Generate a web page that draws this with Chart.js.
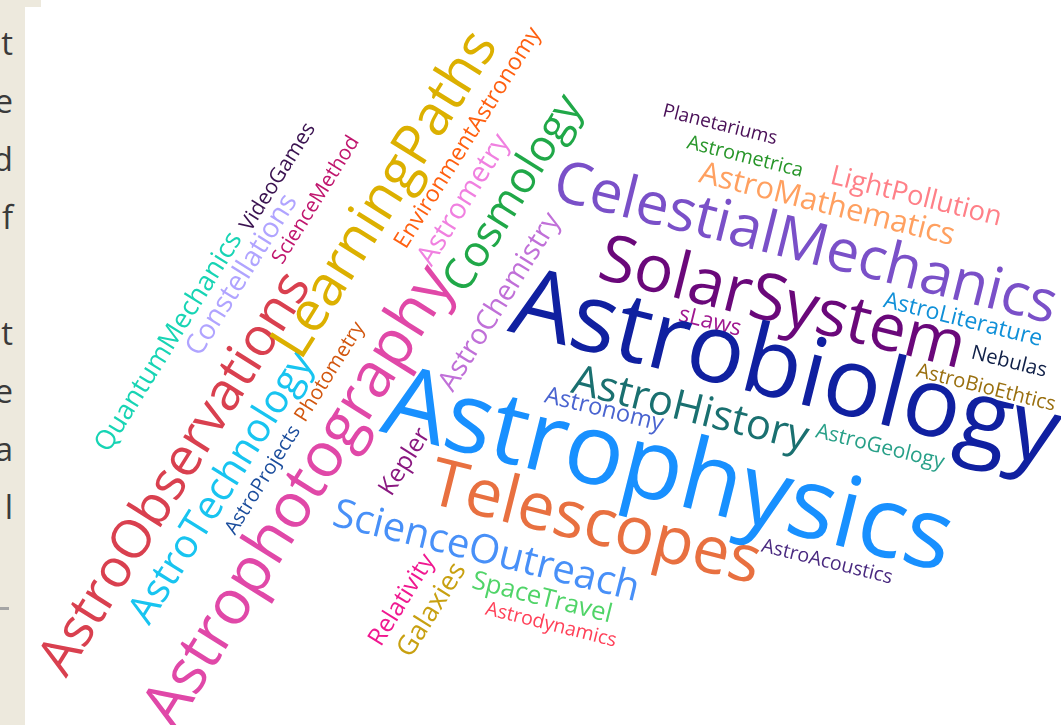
<!DOCTYPE html>
<html>
<head>
<meta charset="utf-8">
<script src="https://cdn.jsdelivr.net/npm/chart.js@4.4.1/dist/chart.umd.min.js"></script>
<style>
  html, body { margin:0; padding:0; width:1061px; height:725px; overflow:hidden; background:#ede9dd; }
  .card1 { position:absolute; left:25px; top:7px; width:1036px; height:718px; background:#fff; }
  .card2 { position:absolute; left:41px; top:0; width:1020px; height:7px; background:#fff; }
  .side { position:absolute; left:0; top:0; width:25px; height:725px; overflow:hidden; }
  .side span { position:absolute; right:12px; font:33px "Open Sans", sans-serif; color:#3a3a3a; line-height:1; }
  .dash { position:absolute; left:0; top:607px; width:9px; height:3px; background:#a5a5a5; }
  #wrap { position:absolute; left:0; top:0; width:1061px; height:725px; }
</style>
</head>
<body>
<div class="card2"></div>
<div class="card1"></div>
<div class="side" id="side"></div>
<div class="dash"></div>
<div id="wrap"><canvas id="c"></canvas></div>
<script>
// ---- data ----
const words = ["QuantumMechanics","Constellations","VideoGames","ScienceMethod","AstroObservations",
  "AstroTechnology","AstroProjects","Photometry","LearningPaths","Astrophotography",
  "EnvironmentAstronomy","Astrometry","Cosmology","AstroChemistry","Kepler","Relativity","Galaxies",
  "Planetariums","Astrometrica","AstroMathematics","LightPollution","CelestialMechanics","SolarSystem",
  "AstroLiterature","sLaws","Astrobiology","Nebulas","AstroBioEthtics","AstroHistory","Astronomy",
  "AstroGeology","Astrophysics","Telescopes","ScienceOutreach","SpaceTravel","Astrodynamics","AstroAcoustics"];
const values = [27,28,21,20.5,53.5,40,20,20.5,56,62.4,23,28.5,43.5,28.4,24.7,24.5,27,
  19,19.8,30.8,27.3,58.5,65.4,23,22.7,96,20.2,20.2,41.7,23.7,21,99,66,40,25.7,19.5,19.6];

// ---- layout (word cloud placement) ----
const posX = [169,242,278,316,176,222,263,330,386,300,468,464,514,500,405,402,432,
  720,745,827,916,805,782,963,710,785,1009,986,690,604,880,668,595,486,542,551,827];
const posY = [342,275,177,200,474,488,480,372,195,497,138,200,194,302,462,600,610,
  125,157,205,197,245,305,320,322,372,362,388,410,410,447,474,525,552,598,625,562];
const rotV = -58, rotH = 14;
const rot = ["V","V","V","V","V","V","V","V","V","V","V","V","V","V","V","V","V",
  "H","H","H","H","H","H","H","H","H","H","H","H","H","H","H","H","H","H","H","H"];

// ---- style ----
const colors = ["#17d4b4","#b0a4ff","#3a1250","#c0166e","#d9404f","#18c4f0","#1a4c9c","#d2560e",
  "#dcb000","#e048a8","#ff6010","#f080e0","#20a848","#c070d8","#8a1880","#f01890","#c8a010",
  "#4a1058","#28962a","#ffa060","#ff8088","#7a50c8","#6a087a","#1090d8","#a01890","#1020a0",
  "#102048","#9a7010","#1a7070","#4a64d0","#28a088","#1890ff","#e87040","#4890f8","#50d468",
  "#ff4058","#4a2a80"];

// side text fragments
const sideLetters = ["t","e","d","f","","t","e","a","l"];
const side = document.getElementById('side');
sideLetters.forEach((l,i)=>{ const s=document.createElement('span'); s.textContent=l; s.style.top=(26+i*58)+'px'; side.appendChild(s); });

const wordPlugin = {
  id:'wordText',
  afterDatasetsDraw(chart){
    const ctx = chart.ctx, xs = chart.scales.x, ys = chart.scales.y;
    words.forEach((w,i)=>{
      const px = xs.getPixelForValue(posX[i]), py = ys.getPixelForValue(posY[i]);
      ctx.save();
      ctx.translate(px,py);
      ctx.rotate((rot[i]==="V"?rotV:rotH)*Math.PI/180);
      ctx.font = values[i] + 'px "Open Sans", sans-serif';
      ctx.fillStyle = colors[i];
      ctx.textAlign = 'center';
      ctx.textBaseline = 'middle';
      ctx.fillText(w,0,0);
      ctx.restore();
    });
  }
};

new Chart(document.getElementById('c'), {
  type:'scatter',
  data:{ datasets:[{ label:'words', data: words.map((w,i)=>({x:posX[i], y:posY[i]})), pointRadius:0, pointHoverRadius:0 }]},
  options:{
    responsive:true, maintainAspectRatio:false, animation:false,
    layout:{ padding:0 },
    plugins:{ legend:{display:false}, tooltip:{enabled:false} },
    events:[],
    scales:{
      x:{ type:'linear', min:0, max:1061, display:false },
      y:{ type:'linear', min:0, max:725, reverse:true, display:false }
    }
  },
  plugins:[wordPlugin]
});
</script>
</body>
</html>
